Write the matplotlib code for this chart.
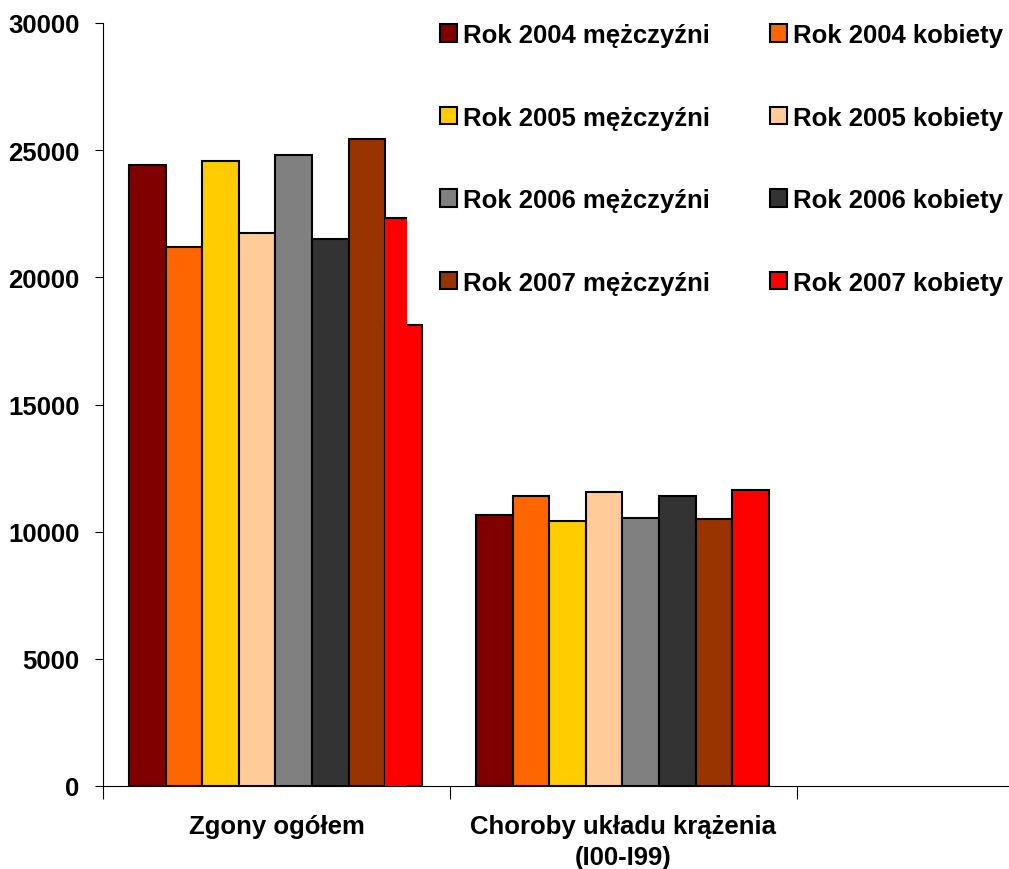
import numpy as np
from matplotlib import pyplot as plt

plt.rcParams["font.family"] = ["Liberation Sans", "DejaVu Sans"]
plt.rcParams["font.weight"] = "bold"

kategorie = ["Zgony ogółem", "Choroby układu krążenia\n(I00-I99)"]
serie = ["Rok 2004 mężczyźni", "Rok 2004 kobiety",
         "Rok 2005 mężczyźni", "Rok 2005 kobiety",
         "Rok 2006 mężczyźni", "Rok 2006 kobiety",
         "Rok 2007 mężczyźni", "Rok 2007 kobiety"]
kolory = ["#800000", "#FF6600", "#FFCC00", "#FFCC99",
          "#808080", "#333333", "#993300", "#FF0000"]

m2004 = [24420, 10640]
k2004 = [21200, 11400]
m2005 = [24580, 10400]
k2005 = [21750, 11570]
m2006 = [24810, 10550]
k2006 = [21510, 11420]
m2007 = [25450, 10480]
k2007 = [22320, 11630]
k2007_schodek = 18130  # dolna czesc czerwonego slupka w "Zgony ogółem"

wartosci = [m2004, k2004, m2005, k2005, m2006, k2006, m2007, k2007]

fig = plt.figure(figsize=(10.09, 8.70), dpi=100)
ax = fig.add_axes([103 / 1009, 1 - 787 / 870, 1041 / 1009, 763 / 870])

wid = 0.1055
start = 0.075
x = np.arange(len(kategorie))
for i, (vals, kol) in enumerate(zip(wartosci, kolory)):
    pos = x + start + i * wid
    if i == len(wartosci) - 1:
        # pierwszy slupek ma "schodek" jak w oryginale
        ax.bar(pos[0], k2007_schodek, width=wid, align="edge", color=kol,
               edgecolor="black", linewidth=1.5, zorder=2)
        ax.bar(pos[0], vals[0], width=wid * 0.58, align="edge", color=kol,
               edgecolor="none", zorder=3)
        ax.hlines(vals[0], pos[0], pos[0] + wid * 0.58, color="black",
                  linewidth=1.5, zorder=4)
        ax.bar(pos[1:], vals[1:], width=wid, align="edge", color=kol,
               edgecolor="black", linewidth=1.5, zorder=2, label=serie[i])
    else:
        ax.bar(pos, vals, width=wid, align="edge", color=kol,
               edgecolor="black", linewidth=1.5, zorder=2, label=serie[i])

ax.set_xlim(0, 3)
ax.set_ylim(0, 30000)
ax.set_yticks(np.arange(0, 30001, 5000))
ax.tick_params(axis="y", direction="out", length=6, labelsize=18.5, pad=11)
ax.set_xticks([0, 1, 2, 3])
ax.set_xticklabels([])
ax.tick_params(axis="x", which="major", direction="out", length=9)
ax.set_xticks(x + 0.5, minor=True)
ax.set_xticklabels(kategorie, minor=True, fontsize=18.5, linespacing=1.38)
ax.tick_params(axis="x", which="minor", length=0, pad=20)
for lab in ax.get_yticklabels() + ax.get_xticklabels(minor=True):
    lab.set_fontweight("bold")
ax.spines["top"].set_visible(False)
ax.spines["right"].set_visible(False)

h, l = ax.get_legend_handles_labels()
order = [0, 2, 4, 6, 1, 3, 5, 7]
leg = fig.legend([h[i] for i in order], [l[i] for i in order], ncol=2,
                 loc="upper left", bbox_to_anchor=(440 / 1009, 1 - 24 / 870),
                 frameon=False, borderpad=0, borderaxespad=0,
                 fontsize=18.5, handlelength=0.66, handleheight=0.66,
                 handletextpad=0.23, labelspacing=2.28, columnspacing=2.35)
for t in leg.get_texts():
    t.set_fontweight("bold")

plt.savefig("out.png", dpi=100)
